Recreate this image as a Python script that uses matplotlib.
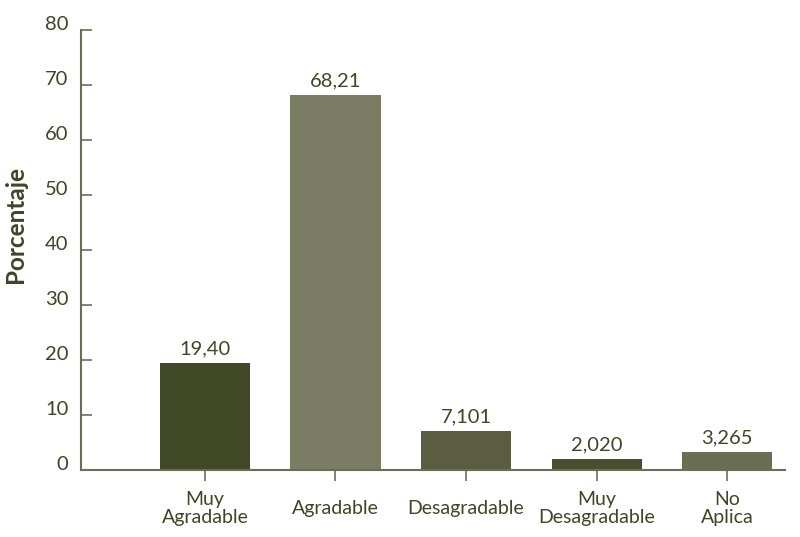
import matplotlib.pyplot as plt
from matplotlib.transforms import ScaledTranslation

categories = ["Muy\nAgradable", "Agradable", "Desagradable", "Muy\nDesagradable", "No\nAplica"]
values = [19.40, 68.21, 7.101, 2.020, 3.265]
value_labels = ["19,40", "68,21", "7,101", "2,020", "3,265"]
bar_colors = ["#414826", "#7a7c63", "#5b5d43", "#474f2e", "#6b6d54"]

text_color = "#3f4526"
axis_color = "#6b6e55"

plt.rcParams['font.family'] = ['Lato', 'DejaVu Sans']

fig = plt.figure(figsize=(8, 5.37), dpi=100)
ax = fig.add_axes([0.101, 0.125, 0.880, 0.819])

x = range(len(categories))
ax.bar(x, values, width=0.69, color=bar_colors)

for xi, v, lab in zip(x, values, value_labels):
    ax.annotate(lab, (xi, v), xytext=(0, 4), textcoords='offset points',
                ha='center', va='bottom', fontsize=14.5, color=text_color)

ax.set_xlim(-0.95, 4.44)
ax.set_ylim(0, 80)
ax.set_yticks(range(0, 81, 10))
ax.set_xticks(list(x))
ax.set_xticklabels(categories, fontsize=14, color=text_color, linespacing=1.08)
for lbl in ax.get_xticklabels():
    lbl.set_verticalalignment('center')

ax.tick_params(axis='x', direction='out', length=8, width=1.2, color=axis_color, pad=20)
ax.tick_params(axis='y', direction='in', length=8, width=1.2, color=axis_color, pad=9,
               labelsize=14.5, labelcolor=text_color)

offset = ScaledTranslation(0, 7 / 100, fig.dpi_scale_trans)
for lbl in ax.get_yticklabels():
    lbl.set_transform(lbl.get_transform() + offset)

ax.set_ylabel("Porcentaje", fontsize=17.5, fontweight='bold', color=text_color)
ax.yaxis.set_label_coords(-0.076, 0.557)

for s in ['top', 'right']:
    ax.spines[s].set_visible(False)
for s in ['left', 'bottom']:
    ax.spines[s].set_color(axis_color)
    ax.spines[s].set_linewidth(1.5)

fig.savefig("out.png", dpi=100)
